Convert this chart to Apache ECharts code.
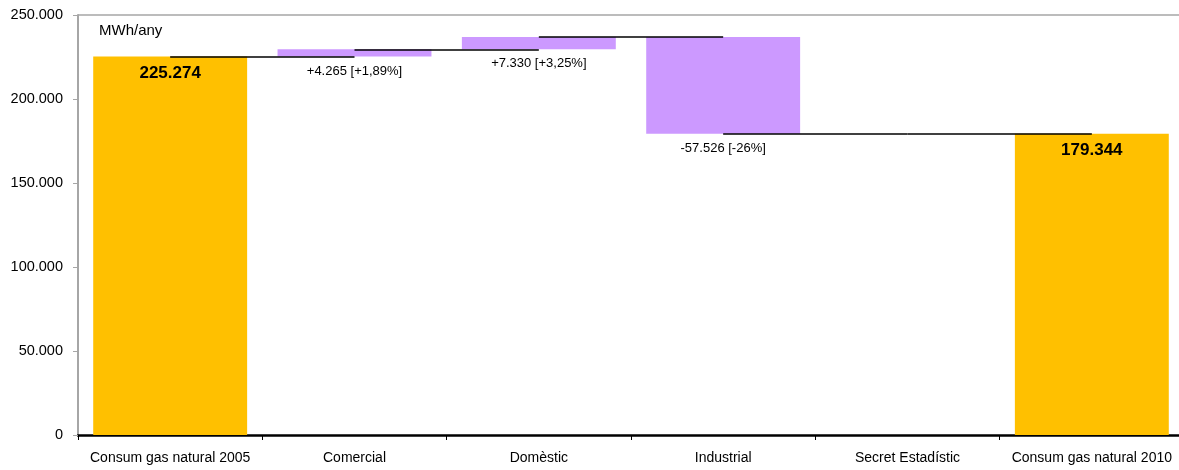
<!DOCTYPE html>
<html>
<head>
<meta charset="utf-8">
<script src="https://cdn.jsdelivr.net/npm/echarts@6/dist/echarts.min.js"></script>
<style>html,body{margin:0;padding:0;background:#fff;overflow:hidden}#c{width:1190px;height:470px}</style>
</head>
<body>
<div id="c"></div>
<script>
const categories = ['Consum gas natural 2005','Comercial','Domèstic','Industrial','Secret Estadístic','Consum gas natural 2010'];
const startValue = 225274;
const deltas = [4265, 7330, -57526, 0];
const endValue = 179344;
const deltaLabels = ['+4.265 [+1,89%]', '+7.330 [+3,25%]', '-57.526 [-26%]', ''];
const yTicks = [0, 50000, 100000, 150000, 200000, 250000];
const unitLabel = 'MWh/any';

function fmt(v){ return String(Math.round(v)).replace(/\B(?=(\d{3})+(?!\d))/g,'.'); }

const n = categories.length;
const base = [0], totals = [startValue], changes = ['-'], levels = [startValue];
let cum = startValue;
deltas.forEach((d) => {
  const next = cum + d;
  base.push(Math.min(cum, next));
  totals.push('-');
  changes.push(d === 0 ? '-' : Math.abs(d));
  cum = next;
  levels.push(cum);
});
base.push(0); totals.push(endValue); changes.push('-');

const connectors = [];
for (let i = 0; i < n - 1; i++) {
  connectors.push([{coord:[categories[i], levels[i]]},{coord:[categories[i+1], levels[i]]}]);
}

const FONT = 'Liberation Sans, Arial, sans-serif';
const chart = echarts.init(document.getElementById('c'));
chart.setOption({
  animation:false,
  grid:{left:78, top:15, bottom:35, width:1106, containLabel:false},
  graphic:[{type:'text', left:99, top:23, style:{text:unitLabel, font:'15px '+FONT, fill:'#000'}}],
  xAxis:{type:'category', data:categories,
    axisLine:{lineStyle:{color:'#000', width:2.5}},
    axisTick:{show:true, length:5, lineStyle:{color:'#000', width:1}},
    axisLabel:{color:'#000', fontSize:14, fontFamily:FONT, margin:16, interval:0}},
  yAxis:{type:'value', min:0, max:250000, interval:50000,
    axisLine:{show:true, lineStyle:{color:'#A6A6A6', width:2}},
    axisTick:{show:true, length:5, lineStyle:{color:'#A6A6A6', width:1}},
    splitLine:{show:false},
    axisLabel:{color:'#000', fontSize:14.5, fontFamily:FONT, margin:15, formatter:(v)=>yTicks.includes(v)?fmt(v):''}},
  series:[
    {type:'bar', stack:'w', data:base, barWidth:'83.5%', itemStyle:{color:'rgba(0,0,0,0)'}, silent:true,
     markLine:{silent:true, symbol:'none', label:{show:false}, lineStyle:{color:'#A6A6A6', width:1.5, type:'solid'},
       data:[{yAxis:250000}]}},
    {type:'bar', stack:'w', data:totals, barWidth:'83.5%', itemStyle:{color:'#FFC000'},
     label:{show:true, position:'insideTop', distance:8, color:'#000', fontSize:17, fontWeight:'bold', fontFamily:FONT,
       formatter:(p)=>fmt(p.value)}},
    {type:'bar', stack:'w', data:changes, barWidth:'83.5%', itemStyle:{color:'#CC99FF'},
     label:{show:true, position:'bottom', distance:8, color:'#000', fontSize:13, fontFamily:FONT,
       formatter:(p)=>deltaLabels[p.dataIndex-1] || ''},
     markLine:{silent:true, symbol:'none', label:{show:false}, lineStyle:{color:'#000', width:1.5, type:'solid'},
       data:connectors}}
  ]
});
</script>
</body>
</html>
